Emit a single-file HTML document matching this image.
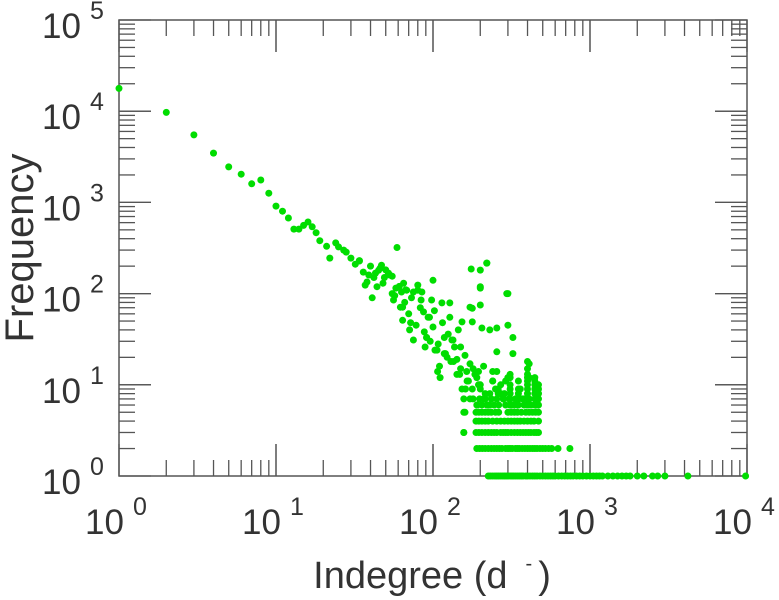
<!DOCTYPE html>
<html><head><meta charset="utf-8"><style>
html,body{margin:0;padding:0;background:#fff;}
svg{display:block;font-family:"Liberation Sans",sans-serif;}
</style></head><body>
<svg id="chart" width="779" height="600" viewBox="0 0 779 600">
<g id="ticks"></g>
<rect x="119" y="20" width="628" height="456" fill="none" stroke="#555" stroke-width="1.5"/>
<g id="labels" fill="#333"></g>
<g id="dots" fill="#00dd00"></g>
<text x="33" y="248" font-size="40" fill="#333" text-anchor="middle" transform="rotate(-90 33 248)">Frequency</text>
<text x="432" y="588" font-size="38" fill="#333" text-anchor="middle">Indegree (d<tspan dx="18" dy="-18" font-size="20">-</tspan><tspan dx="6" dy="18">)</tspan></text>
</svg>
<script>
const xDecades = [0,1,2,3,4];
const yDecades = [0,1,2,3,4,5];
const scatterDeg = [1,2,3,4,5,6,7,8,9,10,11,12,13,14,16,17,18,19,21,22,25,28,30,34,40,43,46,37,50,55,58,63,59,67,75,80,
 34,47,52,36,38,44,41,55,68,80,62,64,71,75,89,91,100,98,103,107,111,123,134,142,164,157,157,172,161,200,220,200,300,200,178,205,230,255,300,323,323,255,240,310,400,
 100,175,220,200,295,172,114,85,64,87,128,128,153,178,118,132,91,106,110,142,148,172,190,255,410,410,153,178,200,230,157,180,220,160,
 310,310,310,310,310,310,310,350,350,350,350,350,400,400,400,400,400,400,400,400,400,445,445,445,445,445,445,445,470,470,470,470,470,
 190,210,230,260,280,330,380,200,240,270,300,260,290,360,
 42,45,48,53,57,61,66,70,73,78,83,88,93,96,102,108,115,120,125,130,137,145,150,160,168,185,195,210,240,270,
 15,24,27,32,39,49,56,65,72,84,95,118,135,150,165,180,195,215,250,285];
const scatterCnt = [17800,9700,5500,3470,2450,2040,1600,1760,1260,910,800,675,510,510,610,540,465,380,330,245,325,285,245,228,200,168,190,124,182,155,115,104,320,110,104,124,
 230,205,168,172,134,119,90,100,109,109,71,51,40,31,26,33,43,85,24,14,12,20,31,13,14,5,3,7,9,181,216,119,100,75,69,42,40,42,45,33,22,23,14,13,18,
 140,186,216,115,100,71,79,104,71,63,79,55,49,49,33,31,33,24,16,19,13,17,12,14,17,12,9,9,9,8,7,7,6,5,
 12,10,9,8,7,6,6,11,9,8,7,6,15,13,12,11,10,9,8,7,6,12,11,10,9,8,7,6,10,9,8,7,6,
 6,7,6,8,7,6,7,10,11,8,12,9,11,9,
 150,180,130,160,95,120,80,60,90,45,70,38,55,30,65,28,48,22,36,18,26,40,15,21,11,13,10,16,11,10,
 560,360,300,210,160,150,85,130,48,85,55,22,18,26,11,15,14,8,9,8];
const row1 = [225,232,240,248,255,262,270,278,285,292,300,310,318,325,335,345,355,365,375,390,400,415,430,445,460,480,500,520,540,560,580,600,630,660,690,720,750,780,820,860,900,950,1000,1050,1100,1150,1200,1300,1400,1500,1600,1700,1800,2000,2200,2500,2700,3000,4200,9800];
const row2 = [190,198,206,215,225,235,245,255,265,275,290,300,310,320,335,345,355,370,385,400,415,430,445,460,480,500,520,545,570,625,745];
const row3 = [157,188,196,205,215,225,235,245,255,270,280,290,300,315,330,345,360,375,390,405,420,440,455,470];
const row4 = [188,196,205,215,225,240,255,270,285,300,315,330,345,360,380,400,420,440,470];
const row5 = [188,196,205,215,225,235,250,262,300,315,330,345,365,390,410,430,450,470];
const row6 = [192,205,222,245,262,290,320,345,380,420,455];
const row7 = [198,215,235,255,280,305,335,370,410,450];
const rowCounts = [1,2,3,4,5,6,7];
const rows = [row1,row2,row3,row4,row5,row6,row7];

const X0=119, X1=747, Y0=476, Y1=20;
function xs(d){return X0+(X1-X0)*Math.log10(d)/4;}
function ys(f){return Y0-(Y0-Y1)*Math.log10(f)/5;}
const NS='http://www.w3.org/2000/svg';
const dots=document.getElementById('dots');
function dot(d,f){
  const c=document.createElementNS(NS,'circle');
  c.setAttribute('cx',xs(d).toFixed(1));
  c.setAttribute('cy',ys(f).toFixed(1));
  c.setAttribute('r','3.5');
  
  
  dots.appendChild(c);
}
for(let i=0;i<scatterDeg.length;i++) dot(scatterDeg[i],scatterCnt[i]);
rows.forEach((r,k)=>r.forEach(d=>dot(d,rowCounts[k])));

const tk=document.getElementById('ticks');
function line(x1,y1,x2,y2){
  const l=document.createElementNS(NS,'line');
  l.setAttribute('x1',x1);l.setAttribute('y1',y1);l.setAttribute('x2',x2);l.setAttribute('y2',y2);
  l.setAttribute('stroke','#555');l.setAttribute('stroke-width','1.3');
  
  
  tk.appendChild(l);
}
for(let e=0;e<4;e++){for(let m=1;m<=10;m++){const v=Math.pow(10,e)*m;const x=xs(v);const L=(m===1||m===10)?32:16;
  line(x,Y0,x,Y0-L);line(x,Y1,x,Y1+L);}}
for(let e=0;e<5;e++){for(let m=1;m<=10;m++){const v=Math.pow(10,e)*m;const y=ys(v);const L=(m===1||m===10)?32:16;
  line(X0,y,X0+L,y);line(X1,y,X1-L,y);}}
const lb=document.getElementById('labels');
function lab(x,y,exp,name){
  const t=document.createElementNS(NS,'text');
  t.setAttribute('x',x);t.setAttribute('y',y);t.setAttribute('font-size','35');
  
  
  t.innerHTML='10<tspan dx="9" dy="-19" font-size="25">'+exp+'</tspan>';
  lb.appendChild(t);
}
xDecades.forEach(e=>lab(xs(Math.pow(10,e))-34,534,e,'x-tick-label'));
yDecades.forEach(e=>lab(42,ys(Math.pow(10,e))+18,e,'y-tick-label'));
</script>
</body></html>
